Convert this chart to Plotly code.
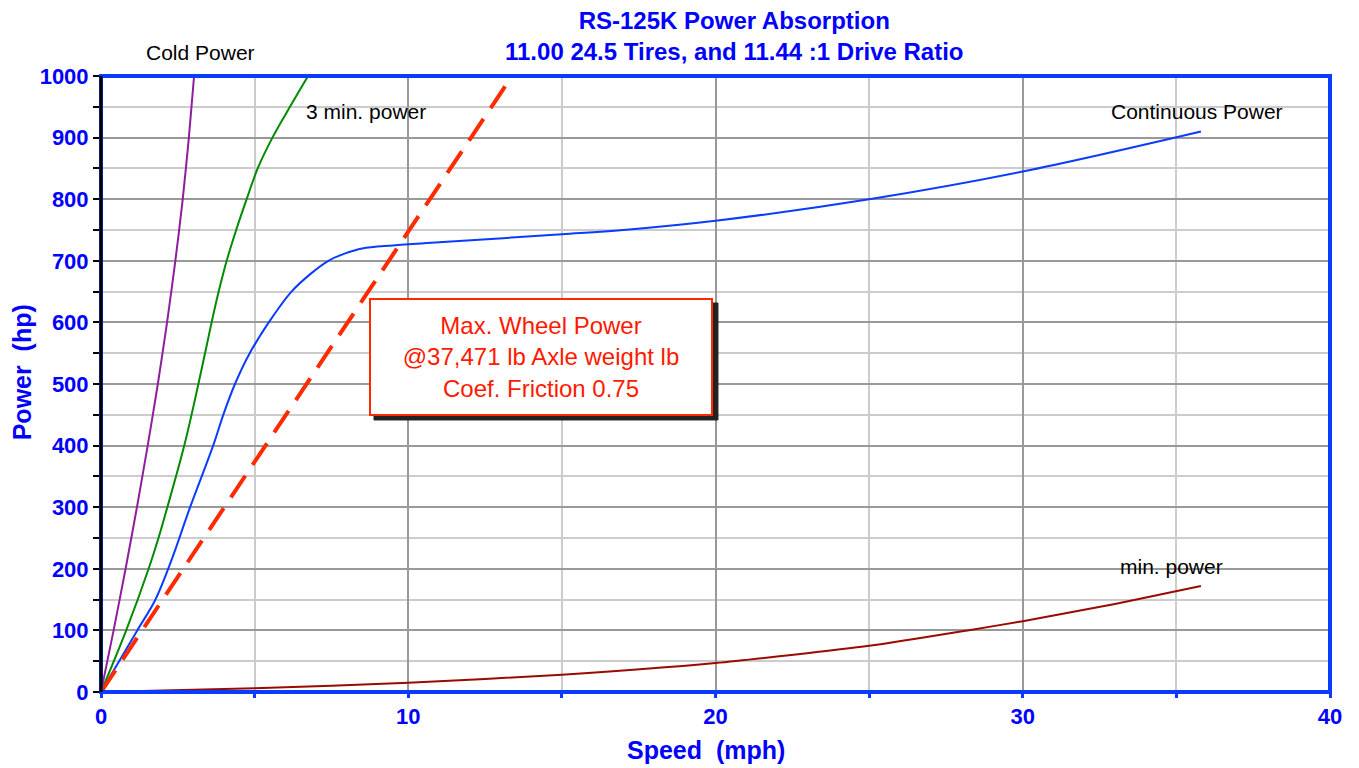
import plotly.graph_objects as go

# ---- data ----
cold_speed = [0, 0.41, 0.80, 1.17, 1.52, 1.85, 2.15, 2.42, 2.66, 2.86, 3.03]
cold_power = [0, 100, 200, 300, 400, 500, 600, 700, 800, 900, 1000]

three_min_speed = [0, 0.82, 1.55, 1.87, 2.16, 2.71, 3.17, 3.60, 3.83, 4.09, 4.40, 4.74, 5.10,
                   5.58, 6.15, 6.74]
three_min_power = [0, 100, 200, 250, 300, 400, 500, 600, 650, 700, 750, 800, 850,
                   900, 950, 1000]

cont_speed = [0, 1.18, 1.76, 2.3, 2.9, 3.65, 3.98, 4.36, 4.84, 5.46, 6.2, 6.85, 7.4, 7.95,
              8.5, 9.5, 11, 15, 17, 20, 25, 30, 35.8]
cont_power = [0, 100, 149, 215, 300, 400, 450, 500, 550, 600, 650, 680, 700, 712,
              720, 725, 730, 743, 750, 765, 800, 845, 910]

min_speed = [0, 5, 10, 15, 20, 25, 28.2, 30, 33, 35.8]
min_power = [0, 6, 15, 28, 47, 75, 100, 115, 143, 172]

wheel_speed = [0, 13.38]
wheel_power = [0, 1000]

x_ticks = [0, 10, 20, 30, 40]
y_ticks = [0, 100, 200, 300, 400, 500, 600, 700, 800, 900, 1000]

title_lines = ["RS-125K Power Absorption", "11.00 24.5 Tires, and 11.44 :1 Drive Ratio"]
box_lines = ["Max. Wheel Power", "@37,471 lb Axle weight lb", "Coef. Friction 0.75"]

BLUE = "#0000FF"
FRAME = "#0A3CFF"
FONT = "Liberation Sans, Arial, sans-serif"

fig = go.Figure()

fig.add_trace(go.Scatter(x=cold_speed, y=cold_power, mode="lines",
                         line=dict(color="#8E1E9E", width=2, shape="spline", smoothing=0.6),
                         name="Cold Power"))
fig.add_trace(go.Scatter(x=three_min_speed, y=three_min_power, mode="lines",
                         line=dict(color="#008A00", width=2, shape="spline", smoothing=1.0),
                         name="3 min. power"))
fig.add_trace(go.Scatter(x=cont_speed, y=cont_power, mode="lines",
                         line=dict(color="#0A3CFF", width=2, shape="spline", smoothing=1.0),
                         name="Continuous Power"))
fig.add_trace(go.Scatter(x=min_speed, y=min_power, mode="lines",
                         line=dict(color="#9A0A00", width=2, shape="spline", smoothing=0.6),
                         name="min. power"))
fig.add_trace(go.Scatter(x=wheel_speed, y=wheel_power, mode="lines",
                         line=dict(color="#FF2A00", width=4, dash="26px,13px"),
                         name="Max. Wheel Power"))

# page body has an 8px margin, so the figure is 8px smaller and margins compensate
fig.update_layout(
    width=1351, height=760,
    margin=dict(l=93, r=29, t=68, b=76),
    paper_bgcolor="white", plot_bgcolor="white",
    showlegend=False,
    font=dict(family=FONT),
)

fig.update_xaxes(
    range=[0, 40], tickvals=x_ticks, ticktext=[str(v) for v in x_ticks],
    showgrid=True, gridcolor="#999999", gridwidth=2,
    ticks="outside", ticklen=5, tickwidth=3, tickcolor=FRAME,
    tickfont=dict(family=FONT, size=22, color=BLUE, weight="bold"),
    minor=dict(dtick=5, showgrid=True, gridcolor="#CCCCCC", gridwidth=2,
               ticks="outside", ticklen=5, tickwidth=3, tickcolor=FRAME),
    zeroline=False, showline=False,
)
fig.update_yaxes(
    range=[0, 1000], tickvals=y_ticks, ticktext=[str(v) for v in y_ticks],
    showgrid=True, gridcolor="#999999", gridwidth=2,
    ticks="outside", ticklen=7, tickwidth=2, tickcolor="black",
    tickfont=dict(family=FONT, size=22, color=BLUE, weight="bold"),
    minor=dict(dtick=50, showgrid=True, gridcolor="#CCCCCC", gridwidth=2,
               ticks="outside", ticklen=7, tickwidth=2, tickcolor="black"),
    zeroline=False, showline=False,
)

# frame: blue on top/right/bottom, black on left
fig.add_shape(type="rect", xref="paper", yref="paper", x0=0, x1=1, y0=0, y1=1,
              line=dict(color=FRAME, width=4), layer="above")
fig.add_shape(type="line", xref="paper", yref="paper", x0=0, x1=0, y0=0, y1=1,
              line=dict(color="black", width=3), layer="above")

# shadow of the text box
fig.add_shape(type="rect", x0=8.885, x1=20.08, y0=441.6, y1=631.5,
              line=dict(color="#222222", width=1), fillcolor="#222222", layer="above")

annotations = []
# title
annotations.append(dict(x=20.63, y=1, xref="x", yref="paper", yshift=40,
                        text="<br>".join(title_lines), showarrow=False,
                        font=dict(family=FONT, size=24, color=BLUE, weight="bold"),
                        xanchor="center", yanchor="middle"))
# axis titles
annotations.append(dict(x=19.69, y=0, xref="x", yref="paper", yshift=-58,
                        text="Speed\u00a0 (mph)", showarrow=False,
                        font=dict(family=FONT, size=25, color=BLUE, weight="bold"),
                        xanchor="center", yanchor="middle"))
annotations.append(dict(x=0, y=519, xref="paper", yref="y", xshift=-79,
                        text="Power\u00a0 (hp)", showarrow=False, textangle=-90,
                        font=dict(family=FONT, size=25, color=BLUE, weight="bold"),
                        xanchor="center", yanchor="middle"))
# curve labels
annotations.append(dict(x=3.25, y=1, xref="x", yref="paper", yshift=24,
                        text="Cold Power", showarrow=False,
                        font=dict(family=FONT, size=21, color="black"),
                        xanchor="center", yanchor="middle"))
for txt, x, y in [("3 min. power", 8.62, 943),
                  ("Continuous Power", 35.67, 943), ("min. power", 34.83, 203)]:
    annotations.append(dict(x=x, y=y, text=txt, showarrow=False,
                            font=dict(family=FONT, size=21, color="black"),
                            xanchor="center", yanchor="middle"))
# box
annotations.append(dict(x=14.32, y=544.6, text="<br>".join(box_lines), showarrow=False,
                        font=dict(family=FONT, size=24, color="#FF1A00"),
                        bgcolor="white", bordercolor="#FF2A00", borderwidth=2, borderpad=2,
                        width=336, height=110, align="center",
                        xanchor="center", yanchor="middle"))
fig.update_layout(annotations=annotations)

fig.write_html("out.html")
